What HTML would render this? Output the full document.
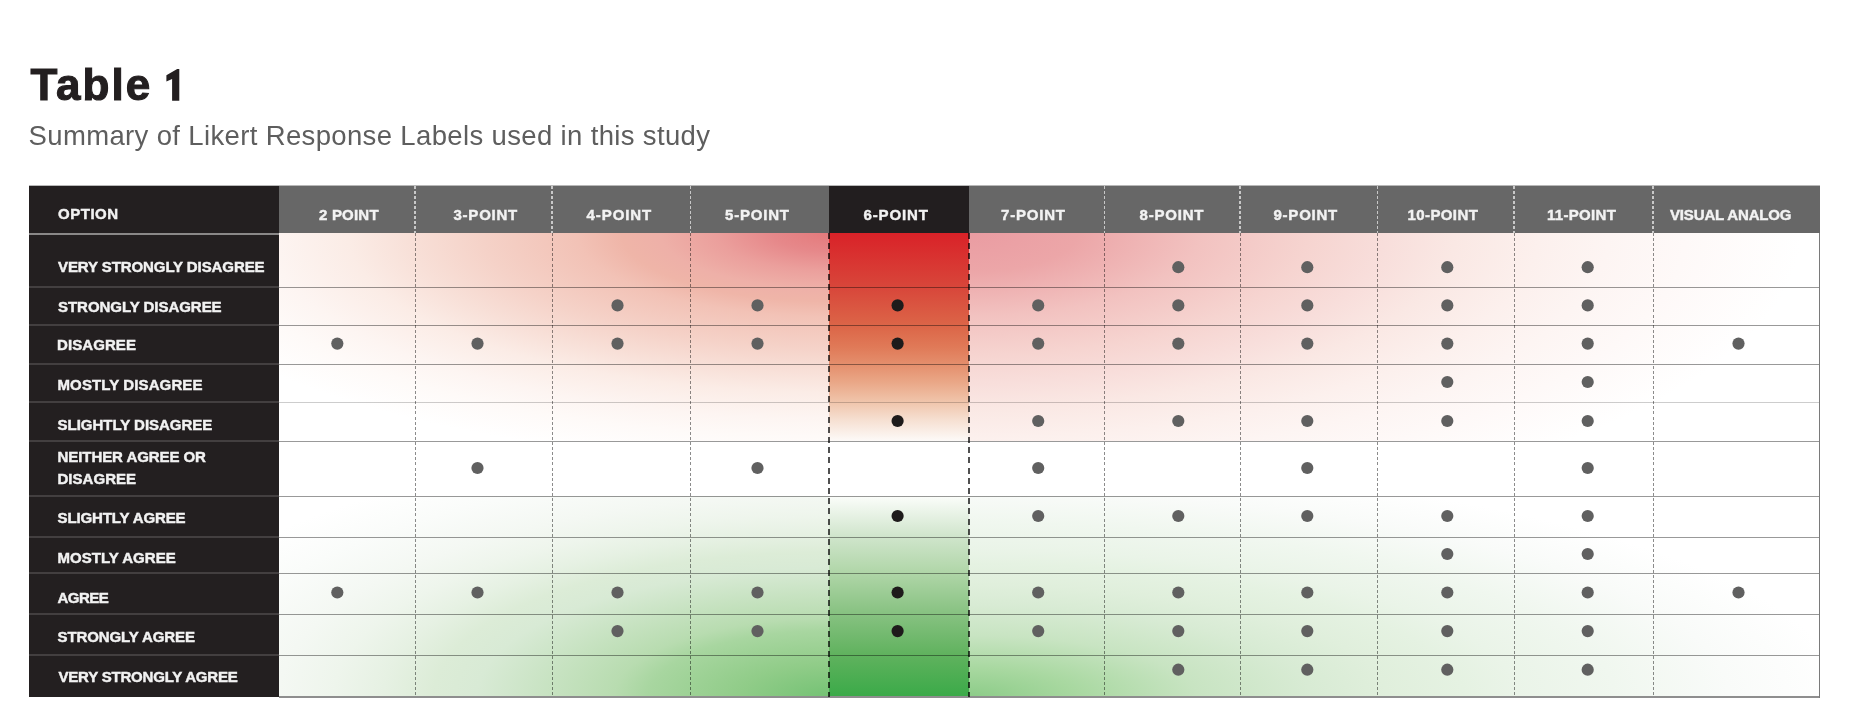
<!DOCTYPE html>
<html><head><meta charset="utf-8"><style>
html,body{margin:0;padding:0;background:#fff;}
body{width:1852px;height:727px;position:relative;overflow:hidden;font-family:"Liberation Sans",sans-serif;}
.a{position:absolute;}
.t{position:absolute;white-space:nowrap;line-height:1;}
.dot{position:absolute;width:13px;height:13px;border-radius:50%;background:#5f5f5f;}
.dk{background:#1c1a1a;}
</style></head><body>

<div class="a" style="left:29px;top:186px;width:250px;height:511px;background:#231f20;"></div>
<div class="a" style="left:279px;top:186px;width:1541px;height:47px;background:#676767;"></div>
<div class="a" style="left:829px;top:186px;width:140px;height:47px;background:#221e1f;"></div>
<div class="a" style="left:29px;top:185px;width:1791px;height:1px;background:#b8b8b8;"></div>
<div class="a" style="left:279px;top:233px;width:1541px;height:464px;background:#fff;overflow:hidden;">
<div class="a" style="left:0;top:0;width:550px;height:208px;background:radial-gradient(ellipse 560px 185px at 550px 0px, #e47a7c 0.0%, #e6888a 10.0%, #eb9f9c 20.0%, #eeb0a8 30.0%, #efb5a8 37.0%, #f2c2b6 45.0%, #f5d2c8 62.0%, #f8e0d8 75.0%, #fbece6 86.0%, #fdf5f2 100.0%, #fefaf8 110.0%, #ffffff 125.0%);"></div>
<div class="a" style="left:690px;top:0;width:851px;height:208px;background:radial-gradient(ellipse 640px 230px at 0px 0px, #ea9ca2 0.0%, #eca6a8 17.0%, #f2c2c0 36.0%, #f6d4d0 53.0%, #f8dedb 65.0%, #fae8e4 76.0%, #fcf0ed 89.0%, #fdf5f3 100.0%, #fef9f8 112.0%, #ffffff 130.0%);"></div>
<div class="a" style="left:0;top:263px;width:550px;height:201px;background:radial-gradient(ellipse 550px 201px at 550px 201px, #74c274 0.0%, #90cc88 16.0%, #a8d6a0 33.0%, #b8dcb0 39.0%, #c6e2c0 50.0%, #d8ead5 64.0%, #dcecd7 72.0%, #e6f1e3 81.0%, #eef5ec 90.0%, #f4f8f3 100.0%, #fafcfa 115.0%, #ffffff 130.0%);"></div>
<div class="a" style="left:690px;top:263px;width:851px;height:201px;background:radial-gradient(ellipse 760px 205px at 0px 201px, #8ccc88 0.0%, #a8d8a0 14.0%, #c8e4c2 30.0%, #d8ebd4 45.0%, #e0efdc 55.0%, #e5f2e2 65.0%, #eaf4e8 72.0%, #f0f7ef 85.0%, #f9fbf9 100.0%, #ffffff 115.0%);"></div>
<div class="a" style="left:550px;top:0;width:140px;height:208px;background:linear-gradient(#d92228 0%, #d8463a 26%, #dc6648 45%, #e07a58 55%, #e48e6c 63%, #eaa888 72%, #f0c4aa 81%, #f6e0d2 90%, #fdfaf8 100%);"></div>
<div class="a" style="left:550px;top:263px;width:140px;height:201px;background:linear-gradient(#fbfdfa 0%, #d0e5cc 20%, #b0d6a8 38%, #88c282 58%, #60b25e 79%, #3aaa48 100%);"></div>
</div>
<div class="a" style="left:279px;top:286.5px;width:1541px;height:1.5px;background:#999999;mix-blend-mode:multiply;"></div>
<div class="a" style="left:29px;top:286px;width:250px;height:2px;background:#433f40;"></div>
<div class="a" style="left:279px;top:324.5px;width:1541px;height:1.5px;background:#999999;mix-blend-mode:multiply;"></div>
<div class="a" style="left:29px;top:324px;width:250px;height:2px;background:#433f40;"></div>
<div class="a" style="left:279px;top:363.5px;width:1541px;height:1.5px;background:#999999;mix-blend-mode:multiply;"></div>
<div class="a" style="left:29px;top:363px;width:250px;height:2px;background:#433f40;"></div>
<div class="a" style="left:279px;top:401.5px;width:1541px;height:1.5px;background:#cdcdcd;mix-blend-mode:multiply;"></div>
<div class="a" style="left:29px;top:401px;width:250px;height:2px;background:#433f40;"></div>
<div class="a" style="left:279px;top:440.5px;width:1541px;height:1.5px;background:#999999;mix-blend-mode:multiply;"></div>
<div class="a" style="left:29px;top:440px;width:250px;height:2px;background:#433f40;"></div>
<div class="a" style="left:279px;top:495.5px;width:1541px;height:1.5px;background:#999999;mix-blend-mode:multiply;"></div>
<div class="a" style="left:29px;top:495px;width:250px;height:2px;background:#433f40;"></div>
<div class="a" style="left:279px;top:536.5px;width:1541px;height:1.5px;background:#999999;mix-blend-mode:multiply;"></div>
<div class="a" style="left:29px;top:536px;width:250px;height:2px;background:#433f40;"></div>
<div class="a" style="left:279px;top:572.5px;width:1541px;height:1.5px;background:#999999;mix-blend-mode:multiply;"></div>
<div class="a" style="left:29px;top:572px;width:250px;height:2px;background:#433f40;"></div>
<div class="a" style="left:279px;top:613.5px;width:1541px;height:1.5px;background:#999999;mix-blend-mode:multiply;"></div>
<div class="a" style="left:29px;top:613px;width:250px;height:2px;background:#433f40;"></div>
<div class="a" style="left:279px;top:654.5px;width:1541px;height:1.5px;background:#999999;mix-blend-mode:multiply;"></div>
<div class="a" style="left:29px;top:654px;width:250px;height:2px;background:#433f40;"></div>
<div class="a" style="left:29px;top:233px;width:250px;height:2px;background:#8a8888;"></div>
<div class="a" style="left:279px;top:696px;width:1541px;height:1.5px;background:#8e8e8e;"></div>
<div class="a" style="left:1819px;top:233px;width:1px;height:464.5px;background:#7a7a7a;"></div>
<div class="a" style="left:414.5px;top:233px;width:1px;height:464px;background:repeating-linear-gradient(#8c8c8c 0 3px, transparent 3px 5.1px);mix-blend-mode:multiply;"></div>
<div class="a" style="left:414.4px;top:186px;width:1.2px;height:47px;background:repeating-linear-gradient(#c8c8c8 0 3px, transparent 3px 5px);"></div>
<div class="a" style="left:551.5px;top:233px;width:1px;height:464px;background:repeating-linear-gradient(#8c8c8c 0 3px, transparent 3px 5.1px);mix-blend-mode:multiply;"></div>
<div class="a" style="left:551.4px;top:186px;width:1.2px;height:47px;background:repeating-linear-gradient(#c8c8c8 0 3px, transparent 3px 5px);"></div>
<div class="a" style="left:690.0px;top:233px;width:1px;height:464px;background:repeating-linear-gradient(#8c8c8c 0 3px, transparent 3px 5.1px);mix-blend-mode:multiply;"></div>
<div class="a" style="left:689.9px;top:186px;width:1.2px;height:47px;background:repeating-linear-gradient(#c8c8c8 0 3px, transparent 3px 5px);"></div>
<div class="a" style="left:828.4px;top:233px;width:1.2px;height:464px;background:repeating-linear-gradient(#505050 0 6px, transparent 6px 10.2px);mix-blend-mode:multiply;"></div>
<div class="a" style="left:968.4px;top:233px;width:1.2px;height:464px;background:repeating-linear-gradient(#505050 0 6px, transparent 6px 10.2px);mix-blend-mode:multiply;"></div>
<div class="a" style="left:1104.0px;top:233px;width:1px;height:464px;background:repeating-linear-gradient(#8c8c8c 0 3px, transparent 3px 5.1px);mix-blend-mode:multiply;"></div>
<div class="a" style="left:1103.9px;top:186px;width:1.2px;height:47px;background:repeating-linear-gradient(#c8c8c8 0 3px, transparent 3px 5px);"></div>
<div class="a" style="left:1239.5px;top:233px;width:1px;height:464px;background:repeating-linear-gradient(#8c8c8c 0 3px, transparent 3px 5.1px);mix-blend-mode:multiply;"></div>
<div class="a" style="left:1239.4px;top:186px;width:1.2px;height:47px;background:repeating-linear-gradient(#c8c8c8 0 3px, transparent 3px 5px);"></div>
<div class="a" style="left:1377.0px;top:233px;width:1px;height:464px;background:repeating-linear-gradient(#8c8c8c 0 3px, transparent 3px 5.1px);mix-blend-mode:multiply;"></div>
<div class="a" style="left:1376.9px;top:186px;width:1.2px;height:47px;background:repeating-linear-gradient(#c8c8c8 0 3px, transparent 3px 5px);"></div>
<div class="a" style="left:1513.5px;top:233px;width:1px;height:464px;background:repeating-linear-gradient(#8c8c8c 0 3px, transparent 3px 5.1px);mix-blend-mode:multiply;"></div>
<div class="a" style="left:1513.4px;top:186px;width:1.2px;height:47px;background:repeating-linear-gradient(#c8c8c8 0 3px, transparent 3px 5px);"></div>
<div class="a" style="left:1652.5px;top:233px;width:1px;height:464px;background:repeating-linear-gradient(#8c8c8c 0 3px, transparent 3px 5.1px);mix-blend-mode:multiply;"></div>
<div class="a" style="left:1652.4px;top:186px;width:1.2px;height:47px;background:repeating-linear-gradient(#c8c8c8 0 3px, transparent 3px 5px);"></div>
<div class="t" id="title" style="left:30.40px;top:62.98px;letter-spacing:2.050px;font-size:44px;font-weight:bold;color:#231f20;-webkit-text-stroke:1.1px #231f20;">Table</div>
<div class="t" id="sub" style="left:28.60px;top:121.92px;letter-spacing:0.353px;font-size:27.5px;color:#5e5e5e;">Summary of Likert Response Labels used in this study</div>
<div class="t" id="h0" style="left:58.00px;top:206.05px;letter-spacing:0.520px;font-size:15px;font-weight:bold;color:#f2f2f2;-webkit-text-stroke:0.45px #f2f2f2;">OPTION</div>
<div class="t" id="h1" style="left:319.00px;top:206.55px;letter-spacing:0.200px;font-size:15px;font-weight:bold;color:#f2f2f2;-webkit-text-stroke:0.45px #f2f2f2;">2 POINT</div>
<div class="t" id="h2" style="left:453.50px;top:206.55px;letter-spacing:0.767px;font-size:15px;font-weight:bold;color:#f2f2f2;-webkit-text-stroke:0.45px #f2f2f2;">3-POINT</div>
<div class="t" id="h3" style="left:586.50px;top:206.55px;letter-spacing:0.933px;font-size:15px;font-weight:bold;color:#f2f2f2;-webkit-text-stroke:0.45px #f2f2f2;">4-POINT</div>
<div class="t" id="h4" style="left:725.00px;top:206.55px;letter-spacing:0.800px;font-size:15px;font-weight:bold;color:#f2f2f2;-webkit-text-stroke:0.45px #f2f2f2;">5-POINT</div>
<div class="t" id="h5" style="left:863.50px;top:206.55px;letter-spacing:0.867px;font-size:15px;font-weight:bold;color:#f2f2f2;-webkit-text-stroke:0.45px #f2f2f2;">6-POINT</div>
<div class="t" id="h6" style="left:1001.00px;top:206.55px;letter-spacing:0.800px;font-size:15px;font-weight:bold;color:#f2f2f2;-webkit-text-stroke:0.45px #f2f2f2;">7-POINT</div>
<div class="t" id="h7" style="left:1139.50px;top:206.55px;letter-spacing:0.800px;font-size:15px;font-weight:bold;color:#f2f2f2;-webkit-text-stroke:0.45px #f2f2f2;">8-POINT</div>
<div class="t" id="h8" style="left:1273.50px;top:206.55px;letter-spacing:0.767px;font-size:15px;font-weight:bold;color:#f2f2f2;-webkit-text-stroke:0.45px #f2f2f2;">9-POINT</div>
<div class="t" id="h9" style="left:1407.50px;top:206.55px;letter-spacing:0.400px;font-size:15px;font-weight:bold;color:#f2f2f2;-webkit-text-stroke:0.45px #f2f2f2;">10-POINT</div>
<div class="t" id="h10" style="left:1547.00px;top:206.55px;letter-spacing:0.314px;font-size:15px;font-weight:bold;color:#f2f2f2;-webkit-text-stroke:0.45px #f2f2f2;">11-POINT</div>
<div class="t" id="h11" style="left:1670.00px;top:206.55px;letter-spacing:-0.150px;font-size:15px;font-weight:bold;color:#f2f2f2;-webkit-text-stroke:0.45px #f2f2f2;">VISUAL ANALOG</div>
<div class="t" id="r0" style="left:58.00px;top:258.55px;letter-spacing:-0.086px;font-size:15px;font-weight:bold;color:#f2f2f2;-webkit-text-stroke:0.45px #f2f2f2;">VERY STRONGLY DISAGREE</div>
<div class="t" id="r1" style="left:58.00px;top:298.55px;letter-spacing:-0.037px;font-size:15px;font-weight:bold;color:#f2f2f2;-webkit-text-stroke:0.45px #f2f2f2;">STRONGLY DISAGREE</div>
<div class="t" id="r2" style="left:57.00px;top:337.05px;letter-spacing:0.086px;font-size:15px;font-weight:bold;color:#f2f2f2;-webkit-text-stroke:0.45px #f2f2f2;">DISAGREE</div>
<div class="t" id="r3" style="left:57.50px;top:377.05px;letter-spacing:0.114px;font-size:15px;font-weight:bold;color:#f2f2f2;-webkit-text-stroke:0.45px #f2f2f2;">MOSTLY DISAGREE</div>
<div class="t" id="r4" style="left:57.50px;top:416.55px;letter-spacing:-0.013px;font-size:15px;font-weight:bold;color:#f2f2f2;-webkit-text-stroke:0.45px #f2f2f2;">SLIGHTLY DISAGREE</div>
<div class="t" id="r5a" style="left:57.50px;top:449.05px;letter-spacing:-0.067px;font-size:15px;font-weight:bold;color:#f2f2f2;-webkit-text-stroke:0.45px #f2f2f2;">NEITHER AGREE OR</div>
<div class="t" id="r5b" style="left:57.50px;top:470.55px;letter-spacing:0.029px;font-size:15px;font-weight:bold;color:#f2f2f2;-webkit-text-stroke:0.45px #f2f2f2;">DISAGREE</div>
<div class="t" id="r6" style="left:57.50px;top:510.05px;letter-spacing:-0.108px;font-size:15px;font-weight:bold;color:#f2f2f2;-webkit-text-stroke:0.45px #f2f2f2;">SLIGHTLY AGREE</div>
<div class="t" id="r7" style="left:57.50px;top:550.05px;letter-spacing:0.036px;font-size:15px;font-weight:bold;color:#f2f2f2;-webkit-text-stroke:0.45px #f2f2f2;">MOSTLY AGREE</div>
<div class="t" id="r8" style="left:57.50px;top:589.55px;letter-spacing:-0.550px;font-size:15px;font-weight:bold;color:#f2f2f2;-webkit-text-stroke:0.45px #f2f2f2;">AGREE</div>
<div class="t" id="r9" style="left:57.50px;top:629.05px;letter-spacing:-0.092px;font-size:15px;font-weight:bold;color:#f2f2f2;-webkit-text-stroke:0.45px #f2f2f2;">STRONGLY AGREE</div>
<div class="t" id="r10" style="left:58.50px;top:668.55px;letter-spacing:-0.200px;font-size:15px;font-weight:bold;color:#f2f2f2;-webkit-text-stroke:0.45px #f2f2f2;">VERY STRONGLY AGREE</div>
<svg class="a" style="left:0;top:0;" width="1852" height="727" viewBox="0 0 1852 727"><circle cx="1178.3" cy="267.2" r="6.1" fill="#606060"/><circle cx="1307.3" cy="267.2" r="6.1" fill="#606060"/><circle cx="1447.3" cy="267.2" r="6.1" fill="#606060"/><circle cx="1587.7" cy="267.2" r="6.1" fill="#606060"/><circle cx="617.5" cy="305.4" r="6.1" fill="#606060"/><circle cx="757.5" cy="305.4" r="6.1" fill="#606060"/><circle cx="897.6" cy="305.4" r="6.1" fill="#1e1b1b"/><circle cx="1038.2" cy="305.4" r="6.1" fill="#606060"/><circle cx="1178.3" cy="305.4" r="6.1" fill="#606060"/><circle cx="1307.3" cy="305.4" r="6.1" fill="#606060"/><circle cx="1447.3" cy="305.4" r="6.1" fill="#606060"/><circle cx="1587.7" cy="305.4" r="6.1" fill="#606060"/><circle cx="337.3" cy="343.6" r="6.1" fill="#606060"/><circle cx="477.5" cy="343.6" r="6.1" fill="#606060"/><circle cx="617.5" cy="343.6" r="6.1" fill="#606060"/><circle cx="757.5" cy="343.6" r="6.1" fill="#606060"/><circle cx="897.6" cy="343.6" r="6.1" fill="#1e1b1b"/><circle cx="1038.2" cy="343.6" r="6.1" fill="#606060"/><circle cx="1178.3" cy="343.6" r="6.1" fill="#606060"/><circle cx="1307.3" cy="343.6" r="6.1" fill="#606060"/><circle cx="1447.3" cy="343.6" r="6.1" fill="#606060"/><circle cx="1587.7" cy="343.6" r="6.1" fill="#606060"/><circle cx="1738.5" cy="343.6" r="6.1" fill="#606060"/><circle cx="1447.3" cy="382" r="6.1" fill="#606060"/><circle cx="1587.7" cy="382" r="6.1" fill="#606060"/><circle cx="897.6" cy="421" r="6.1" fill="#1e1b1b"/><circle cx="1038.2" cy="421" r="6.1" fill="#606060"/><circle cx="1178.3" cy="421" r="6.1" fill="#606060"/><circle cx="1307.3" cy="421" r="6.1" fill="#606060"/><circle cx="1447.3" cy="421" r="6.1" fill="#606060"/><circle cx="1587.7" cy="421" r="6.1" fill="#606060"/><circle cx="477.5" cy="468" r="6.1" fill="#606060"/><circle cx="757.5" cy="468" r="6.1" fill="#606060"/><circle cx="1038.2" cy="468" r="6.1" fill="#606060"/><circle cx="1307.3" cy="468" r="6.1" fill="#606060"/><circle cx="1587.7" cy="468" r="6.1" fill="#606060"/><circle cx="897.6" cy="516" r="6.1" fill="#1e1b1b"/><circle cx="1038.2" cy="516" r="6.1" fill="#606060"/><circle cx="1178.3" cy="516" r="6.1" fill="#606060"/><circle cx="1307.3" cy="516" r="6.1" fill="#606060"/><circle cx="1447.3" cy="516" r="6.1" fill="#606060"/><circle cx="1587.7" cy="516" r="6.1" fill="#606060"/><circle cx="1447.3" cy="554" r="6.1" fill="#606060"/><circle cx="1587.7" cy="554" r="6.1" fill="#606060"/><circle cx="337.3" cy="592.5" r="6.1" fill="#606060"/><circle cx="477.5" cy="592.5" r="6.1" fill="#606060"/><circle cx="617.5" cy="592.5" r="6.1" fill="#606060"/><circle cx="757.5" cy="592.5" r="6.1" fill="#606060"/><circle cx="897.6" cy="592.5" r="6.1" fill="#1e1b1b"/><circle cx="1038.2" cy="592.5" r="6.1" fill="#606060"/><circle cx="1178.3" cy="592.5" r="6.1" fill="#606060"/><circle cx="1307.3" cy="592.5" r="6.1" fill="#606060"/><circle cx="1447.3" cy="592.5" r="6.1" fill="#606060"/><circle cx="1587.7" cy="592.5" r="6.1" fill="#606060"/><circle cx="1738.5" cy="592.5" r="6.1" fill="#606060"/><circle cx="617.5" cy="631.1" r="6.1" fill="#606060"/><circle cx="757.5" cy="631.1" r="6.1" fill="#606060"/><circle cx="897.6" cy="631.1" r="6.1" fill="#1e1b1b"/><circle cx="1038.2" cy="631.1" r="6.1" fill="#606060"/><circle cx="1178.3" cy="631.1" r="6.1" fill="#606060"/><circle cx="1307.3" cy="631.1" r="6.1" fill="#606060"/><circle cx="1447.3" cy="631.1" r="6.1" fill="#606060"/><circle cx="1587.7" cy="631.1" r="6.1" fill="#606060"/><circle cx="1178.3" cy="669.7" r="6.1" fill="#606060"/><circle cx="1307.3" cy="669.7" r="6.1" fill="#606060"/><circle cx="1447.3" cy="669.7" r="6.1" fill="#606060"/><circle cx="1587.7" cy="669.7" r="6.1" fill="#606060"/><path d="M166.4,75.2 L177.2,69.0 L179.3,69.0 L179.3,100.8 L172.1,100.8 L172.1,78.9 L166.4,81.4 Z" fill="#231f20"/></svg>
</body></html>
